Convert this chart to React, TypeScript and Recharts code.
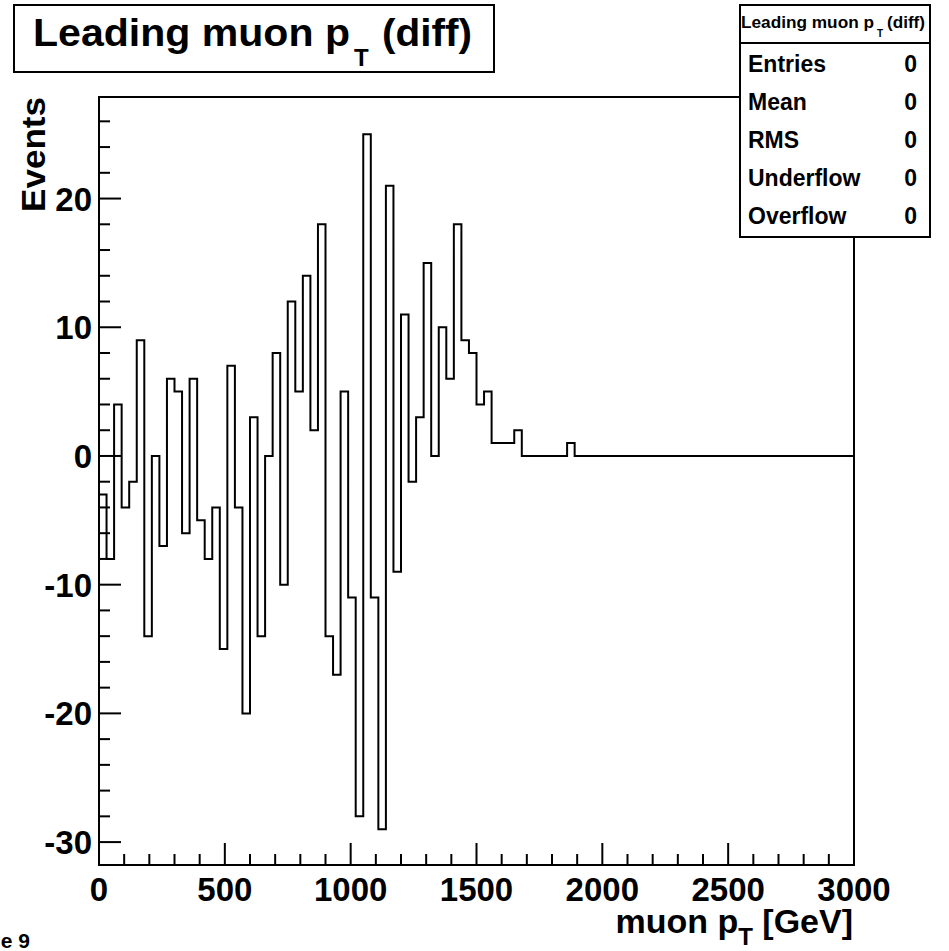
import { Line, LineChart, ReferenceArea, XAxis, YAxis } from 'recharts'

// 100 bins of 30 GeV, muon pT from 0 to 3000 GeV
const BIN_WIDTH = 30
const X_MAX = 3000
const COUNTS = [
  -3, -8, 4, -4, -2, 9, -14, 0, -7, 6,
  5, -6, 6, -5, -8, -4, -15, 7, -4, -20,
  3, -14, 0, 8, -10, 12, 5, 14, 2, 18,
  -14, -17, 5, -11, -28, 25, -11, -29, 21, -9,
  11, -2, 3, 15, 0, 10, 6, 18, 9, 8,
  4, 5, 1, 1, 1, 2, 0, 0, 0, 0,
  0, 0, 1, 0, 0, 0, 0, 0, 0, 0,
  0, 0, 0, 0, 0, 0, 0, 0, 0, 0,
  0, 0, 0, 0, 0, 0, 0, 0, 0, 0,
  0, 0, 0, 0, 0, 0, 0, 0, 0, 0,
]

const Y_MIN = -31.78
const Y_MAX = 27.89
const X_TICKS = Array.from({ length: 31 }, (_, i) => i * 100)
const Y_TICKS = Array.from({ length: 29 }, (_, i) => -30 + i * 2)
const X_MAJOR = 500
const Y_MAJOR = 10

const STATS = [
  { nombre: 'Entries', valor: '0' },
  { nombre: 'Mean', valor: '0' },
  { nombre: 'RMS', valor: '0' },
  { nombre: 'Underflow', valor: '0' },
  { nombre: 'Overflow', valor: '0' },
]

const FONT = '"Liberation Sans", Arial, Helvetica, sans-serif'

// el último borde repite el último bin para cerrar el escalón
const histData = [
  ...COUNTS.map((c, i) => ({ pt: i * BIN_WIDTH, events: c })),
  { pt: X_MAX, events: COUNTS[COUNTS.length - 1] },
]

function XTick(props: any) {
  const { x, y, payload } = props
  const major = payload.value % X_MAJOR === 0
  return (
    <g>
      <line x1={x} x2={x} y1={y} y2={y - (major ? 22 : 11)} stroke="#000" strokeWidth={2} />
      {major && (
        <text x={x} y={y + 36} textAnchor="middle" fontSize={33} fontWeight="bold" fontFamily={FONT} fill="#000">
          {payload.value}
        </text>
      )}
    </g>
  )
}

function YTick(props: any) {
  const { x, y, payload } = props
  const major = payload.value % Y_MAJOR === 0
  return (
    <g>
      <line x1={x} x2={x + (major ? 22 : 11)} y1={y} y2={y} stroke="#000" strokeWidth={2} />
      {major && (
        <text x={x - 7} y={y + 12} textAnchor="end" fontSize={33} fontWeight="bold" fontFamily={FONT} fill="#000">
          {payload.value}
        </text>
      )}
    </g>
  )
}

export default function App() {
  return (
    <div style={{ position: 'absolute', left: 0, top: 0, width: 949, height: 951, background: '#fff' }}>
      <LineChart width={949} height={951} data={histData} margin={{ top: 97, right: 95, bottom: 0, left: 0 }}>
        <XAxis
          dataKey="pt"
          type="number"
          domain={[0, X_MAX]}
          ticks={X_TICKS}
          interval={0}
          height={86}
          axisLine={false}
          tickLine={false}
          tickSize={0}
          tickMargin={0}
          tick={(p: any) => <XTick {...p} />}
        />
        <YAxis
          type="number"
          domain={[Y_MIN, Y_MAX]}
          allowDataOverflow
          ticks={Y_TICKS}
          interval={0}
          width={99}
          axisLine={false}
          tickLine={false}
          tickSize={0}
          tickMargin={0}
          tick={(p: any) => <YTick {...p} />}
        />
        <ReferenceArea x1={0} x2={X_MAX} y1={Y_MIN} y2={Y_MAX} fill="none" stroke="#000" strokeWidth={2} />
        <Line
          type="stepAfter"
          dataKey="events"
          stroke="#000"
          strokeWidth={2}
          dot={false}
          activeDot={false}
          isAnimationActive={false}
        />
      </LineChart>

      <svg
        width={949}
        height={951}
        style={{ position: 'absolute', left: 0, top: 0, pointerEvents: 'none' }}
        fontFamily={FONT}
        fontWeight="bold"
      >
        {/* título */}
        <rect x={14} y={5} width={480} height={67} fill="#fff" stroke="#000" strokeWidth={2} />
        <text x={33} y={46} fontSize={39} textLength={317} lengthAdjust="spacingAndGlyphs">
          Leading muon p
        </text>
        <text x={354} y={66} fontSize={24}>
          T
        </text>
        <text x={382} y={46} fontSize={39} textLength={90} lengthAdjust="spacingAndGlyphs">
          (diff)
        </text>

        {/* caja de estadísticas */}
        <rect x={740} y={5} width={190} height={232} fill="#fff" stroke="#000" strokeWidth={2} />
        <line x1={740} x2={930} y1={43} y2={43} stroke="#000" strokeWidth={2} />
        <text x={741} y={28} fontSize={17} textLength={133} lengthAdjust="spacingAndGlyphs">
          Leading muon p
        </text>
        <text x={877} y={37} fontSize={10}>
          T
        </text>
        <text x={887} y={28} fontSize={17} textLength={38} lengthAdjust="spacingAndGlyphs">
          (diff)
        </text>
        {STATS.map((s, i) => (
          <g key={s.nombre}>
            <text x={748} y={72 + i * 38} fontSize={23}>
              {s.nombre}
            </text>
            <text x={917} y={72 + i * 38} fontSize={23} textAnchor="end">
              {s.valor}
            </text>
          </g>
        ))}

        {/* títulos de ejes */}
        <text transform="translate(45,97) rotate(-90)" textAnchor="end" fontSize={34} textLength={115} lengthAdjust="spacingAndGlyphs">
          Events
        </text>
        <text x={853} y={933} fontSize={34} textAnchor="end">
          muon p
          <tspan fontSize={24} dy={12}>
            T
          </tspan>
          <tspan dy={-12}> [GeV]</tspan>
        </text>

        <text x={30} y={948} fontSize={21} textAnchor="end">
          Page 9
        </text>
      </svg>
    </div>
  )
}
